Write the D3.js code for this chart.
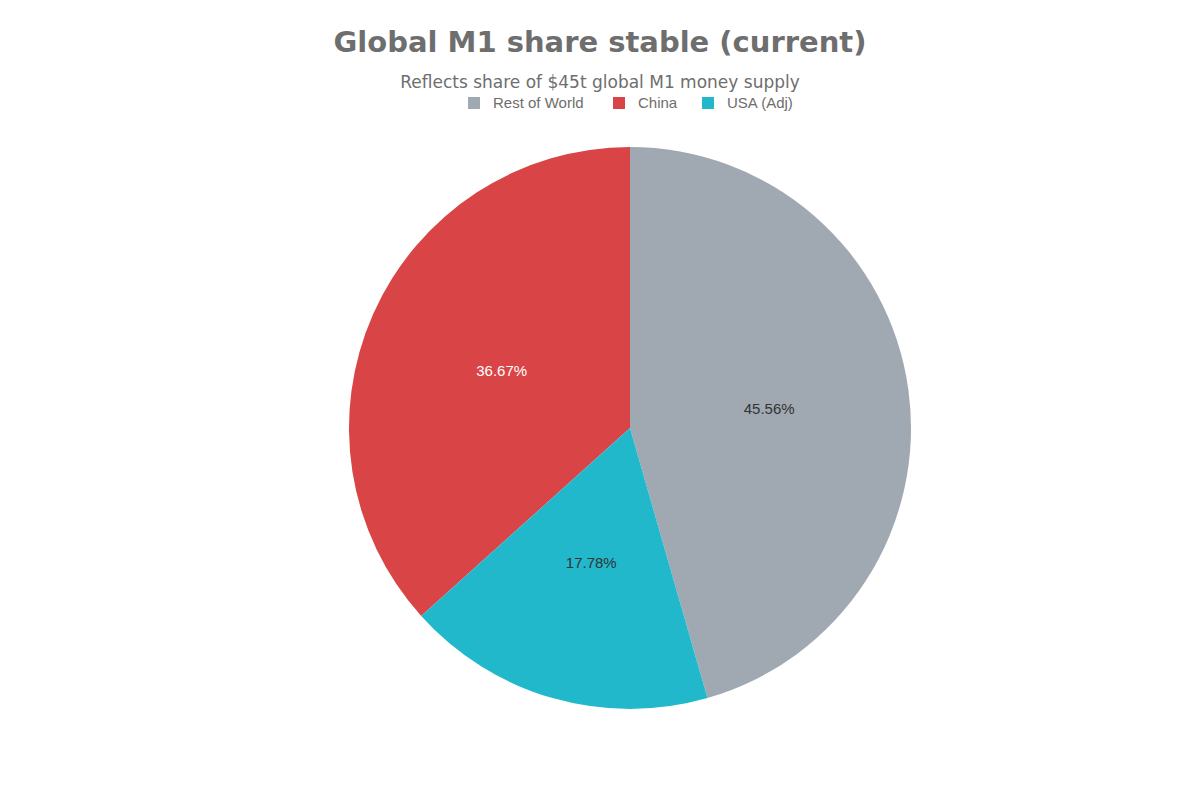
<!DOCTYPE html>
<html>
<head>
<meta charset="utf-8">
<script src="https://d3js.org/d3.v7.min.js"></script>
<style>
body { margin: 0; background: #fff; }
</style>
</head>
<body>
<div id="chart"></div>
<script>
// data
var categories = ["Rest of World", "China", "USA (Adj)"];
var shares = [45.56, 36.67, 17.78];
var colors = ["#a0a8b1", "#d94546", "#21b8cc"];
// drawing order, clockwise from 12 o'clock
var drawOrder = ["Rest of World", "USA (Adj)", "China"];

var width = 1200, height = 800;
var cx = 630, cy = 428, radius = 281;

var svg = d3.select("#chart").append("svg")
    .attr("width", width)
    .attr("height", height);

svg.append("text")
    .attr("x", 600).attr("y", 52)
    .attr("text-anchor", "middle")
    .style("font-family", "DejaVu Sans")
    .style("font-weight", "bold")
    .style("font-size", "29px")
    .style("fill", "#6e6e6e")
    .text("Global M1 share stable (current)");

svg.append("text")
    .attr("x", 600).attr("y", 88)
    .attr("text-anchor", "middle")
    .style("font-family", "DejaVu Sans")
    .style("font-size", "17px")
    .style("fill", "#6e6e6e")
    .text("Reflects share of $45t global M1 money supply");

var color = d3.scaleOrdinal().domain(categories).range(colors);

var data = categories.map(function(c, i) { return {name: c, value: shares[i]}; });

// legend
var legendX = [468, 613, 702];
var legend = svg.append("g").selectAll("g")
    .data(categories)
    .enter().append("g")
      .attr("transform", function(d, i) { return "translate(" + legendX[i] + ",97)"; });
legend.append("rect")
    .attr("width", 12).attr("height", 12)
    .attr("fill", function(d) { return color(d); });
legend.append("text")
    .attr("x", 25).attr("y", 11)
    .style("font-family", "Liberation Sans, Arial")
    .style("font-size", "15px")
    .style("fill", "#6e6e6e")
    .text(function(d) { return d; });

var pie = d3.pie()
    .value(function(d) { return d.value; })
    .sort(function(a, b) { return drawOrder.indexOf(a.name) - drawOrder.indexOf(b.name); });

var arc = d3.arc().innerRadius(0).outerRadius(radius);
var labelArc = d3.arc().innerRadius(radius * 0.5).outerRadius(radius * 0.5);

var g = svg.append("g").attr("transform", "translate(" + cx + "," + cy + ")");
var slices = g.selectAll("g").data(pie(data)).enter().append("g");

slices.append("path")
    .attr("d", arc)
    .attr("fill", function(d) { return color(d.data.name); });

slices.append("text")
    .attr("transform", function(d) { return "translate(" + labelArc.centroid(d) + ")"; })
    .attr("text-anchor", "middle")
    .attr("dy", "0.35em")
    .style("font-family", "Liberation Sans, Arial")
    .style("font-size", "15px")
    .style("fill", function(d) { return d.data.name === "China" ? "#ffffff" : "#333333"; })
    .text(function(d) { return d.data.value.toFixed(2) + "%"; });
</script>
</body>
</html>
